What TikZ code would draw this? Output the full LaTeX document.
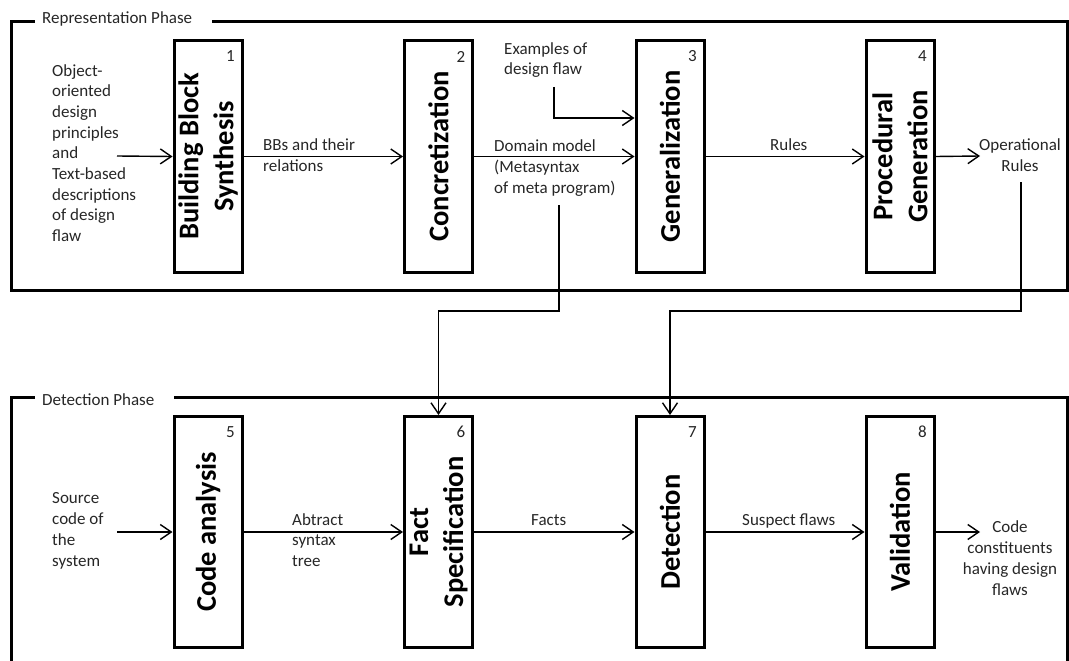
\documentclass[tikz,border=0pt]{standalone}
\usepackage{fontspec}
\setmainfont{Carlito}
\usetikzlibrary{arrows.meta}
\begin{document}
\begin{tikzpicture}[x=1pt,y=-1pt,
  frame/.style={line width=3pt,line cap=rect},
  stage/.style={draw,line width=3pt,minimum width=68pt,minimum height=231pt,inner sep=0pt},
  stagelabel/.style={rotate=90,font=\fontsize{28.5}{35}\selectfont\bfseries,align=center,inner sep=0pt},
  small/.style={font=\fontsize{17}{20.7}\selectfont,text=black!85,inner sep=0pt},
  % multi-line texts are placed by the baseline of their last line
  ltxt/.style={small,align=left,anchor=base west},
  ctxt/.style={small,align=center,anchor=base},
  num/.style={small},
  arr/.style={line width=1.4pt,-{Straight Barb[length=11pt,width=15pt]}},
  ]
\useasboundingbox (0,0) rectangle (1069,661);
\clip (0,0) rectangle (1069,661);

% phase frames with their titles
\draw[frame] (33,22) -- (11,22) -- (11,290) -- (1067,290) -- (1067,22) -- (213,22);
\node[ltxt] (t1) at (42,24) {Representation Phase};
\draw[frame] (33,397) -- (11,397) -- (11,670);
\draw[frame] (175,397) -- (1067,397) -- (1067,670);
\node[ltxt] (t2) at (42,405) {Detection Phase};

% representation stages
\node[stage] (b1) at (208,156.5) {};
\node[stage] (b2) at (438.5,156.5) {};
\node[stage] (b3) at (670,156.5) {};
\node[stage] (b4) at (900,156.5) {};
\node[stagelabel] at (b1) {Building Block\\Synthesis};
\node[stagelabel] at (b2) {Concretization};
\node[stagelabel] at (b3) {Generalization};
\node[stagelabel] at (b4) {Procedural\\Generation};
\node[num] at ([shift={(-13,17)}]b1.north east) {1};
\node[num] at ([shift={(-13,17)}]b2.north east) {2};
\node[num] at ([shift={(-13,17)}]b3.north east) {3};
\node[num] at ([shift={(-13,17)}]b4.north east) {4};

% detection stages
\node[stage] (b5) at (208,532) {};
\node[stage] (b6) at (438.5,532) {};
\node[stage] (b7) at (670,532) {};
\node[stage] (b8) at (900,532) {};
\node[stagelabel] at (b5) {Code analysis};
\node[stagelabel] at (b6) {Fact\\Specification};
\node[stagelabel] at (b7) {Detection};
\node[stagelabel] at (b8) {Validation};
\node[num] at ([shift={(-13,17)}]b5.north east) {5};
\node[num] at ([shift={(-13,17)}]b6.north east) {6};
\node[num] at ([shift={(-13,17)}]b7.north east) {7};
\node[num] at ([shift={(-13,17)}]b8.north east) {8};

% texts of the representation phase
\node[ltxt] (src1) at (52,241.6) {Object-\\oriented\\design\\principles\\and\\Text-based\\descriptions\\of design\\flaw};
\node[ltxt] (l12) at (263,171) {BBs and their\\relations};
\node[ltxt] (l23) at (494,193) {Domain model\\(Metasyntax\\of meta program)};
\node[ltxt] (ex) at (504,75) {Examples of\\design flaw};
\node[ltxt] (l34) at (770,150) {Rules};
\node[ctxt] (out1) at (1020,171) {Operational\\Rules};

% texts of the detection phase
\node[ltxt] (src2) at (52,566) {Source\\code of\\the\\system};
\node[ltxt] (l56) at (292,566.4) {Abtract\\syntax\\tree};
\node[ltxt] (l67) at (531,525) {Facts};
\node[ltxt] (l78) at (742,525) {Suspect flaws};
\node[ctxt] (out2) at (1010,595) {Code\\constituents\\having design\\flaws};

% free ends of connectors
\coordinate (in1) at (117,156);
\coordinate (in2) at (117,532);
\coordinate (exout) at (554,87);
\coordinate (dmout) at (559,205);
\coordinate (orout) at (1021,182);
\coordinate (res1) at (980,156);
\coordinate (res2) at (980,532);

% connectors
\draw[arr] (in1) -- (b1.west);
\draw[arr] (b1.east) -- (b2.west);
\draw[arr] (b2.east) -- (b3.west);
\draw[arr] (exout) |- (b3.west |- 0,118);
\draw[arr] (b3.east) -- (b4.west);
\draw[arr] (b4.east) -- (res1);

\draw[arr] (in2) -- (b5.west);
\draw[arr] (b5.east) -- (b6.west);
\draw[arr] (b6.east) -- (b7.west);
\draw[arr] (b7.east) -- (b8.west);
\draw[arr] (b8.east) -- (res2);

\draw[arr] (dmout) -- (dmout |- 0,311) -| (b6.north);
\draw[arr] (orout) -- (orout |- 0,311) -| (b7.north);
\end{tikzpicture}
\end{document}
